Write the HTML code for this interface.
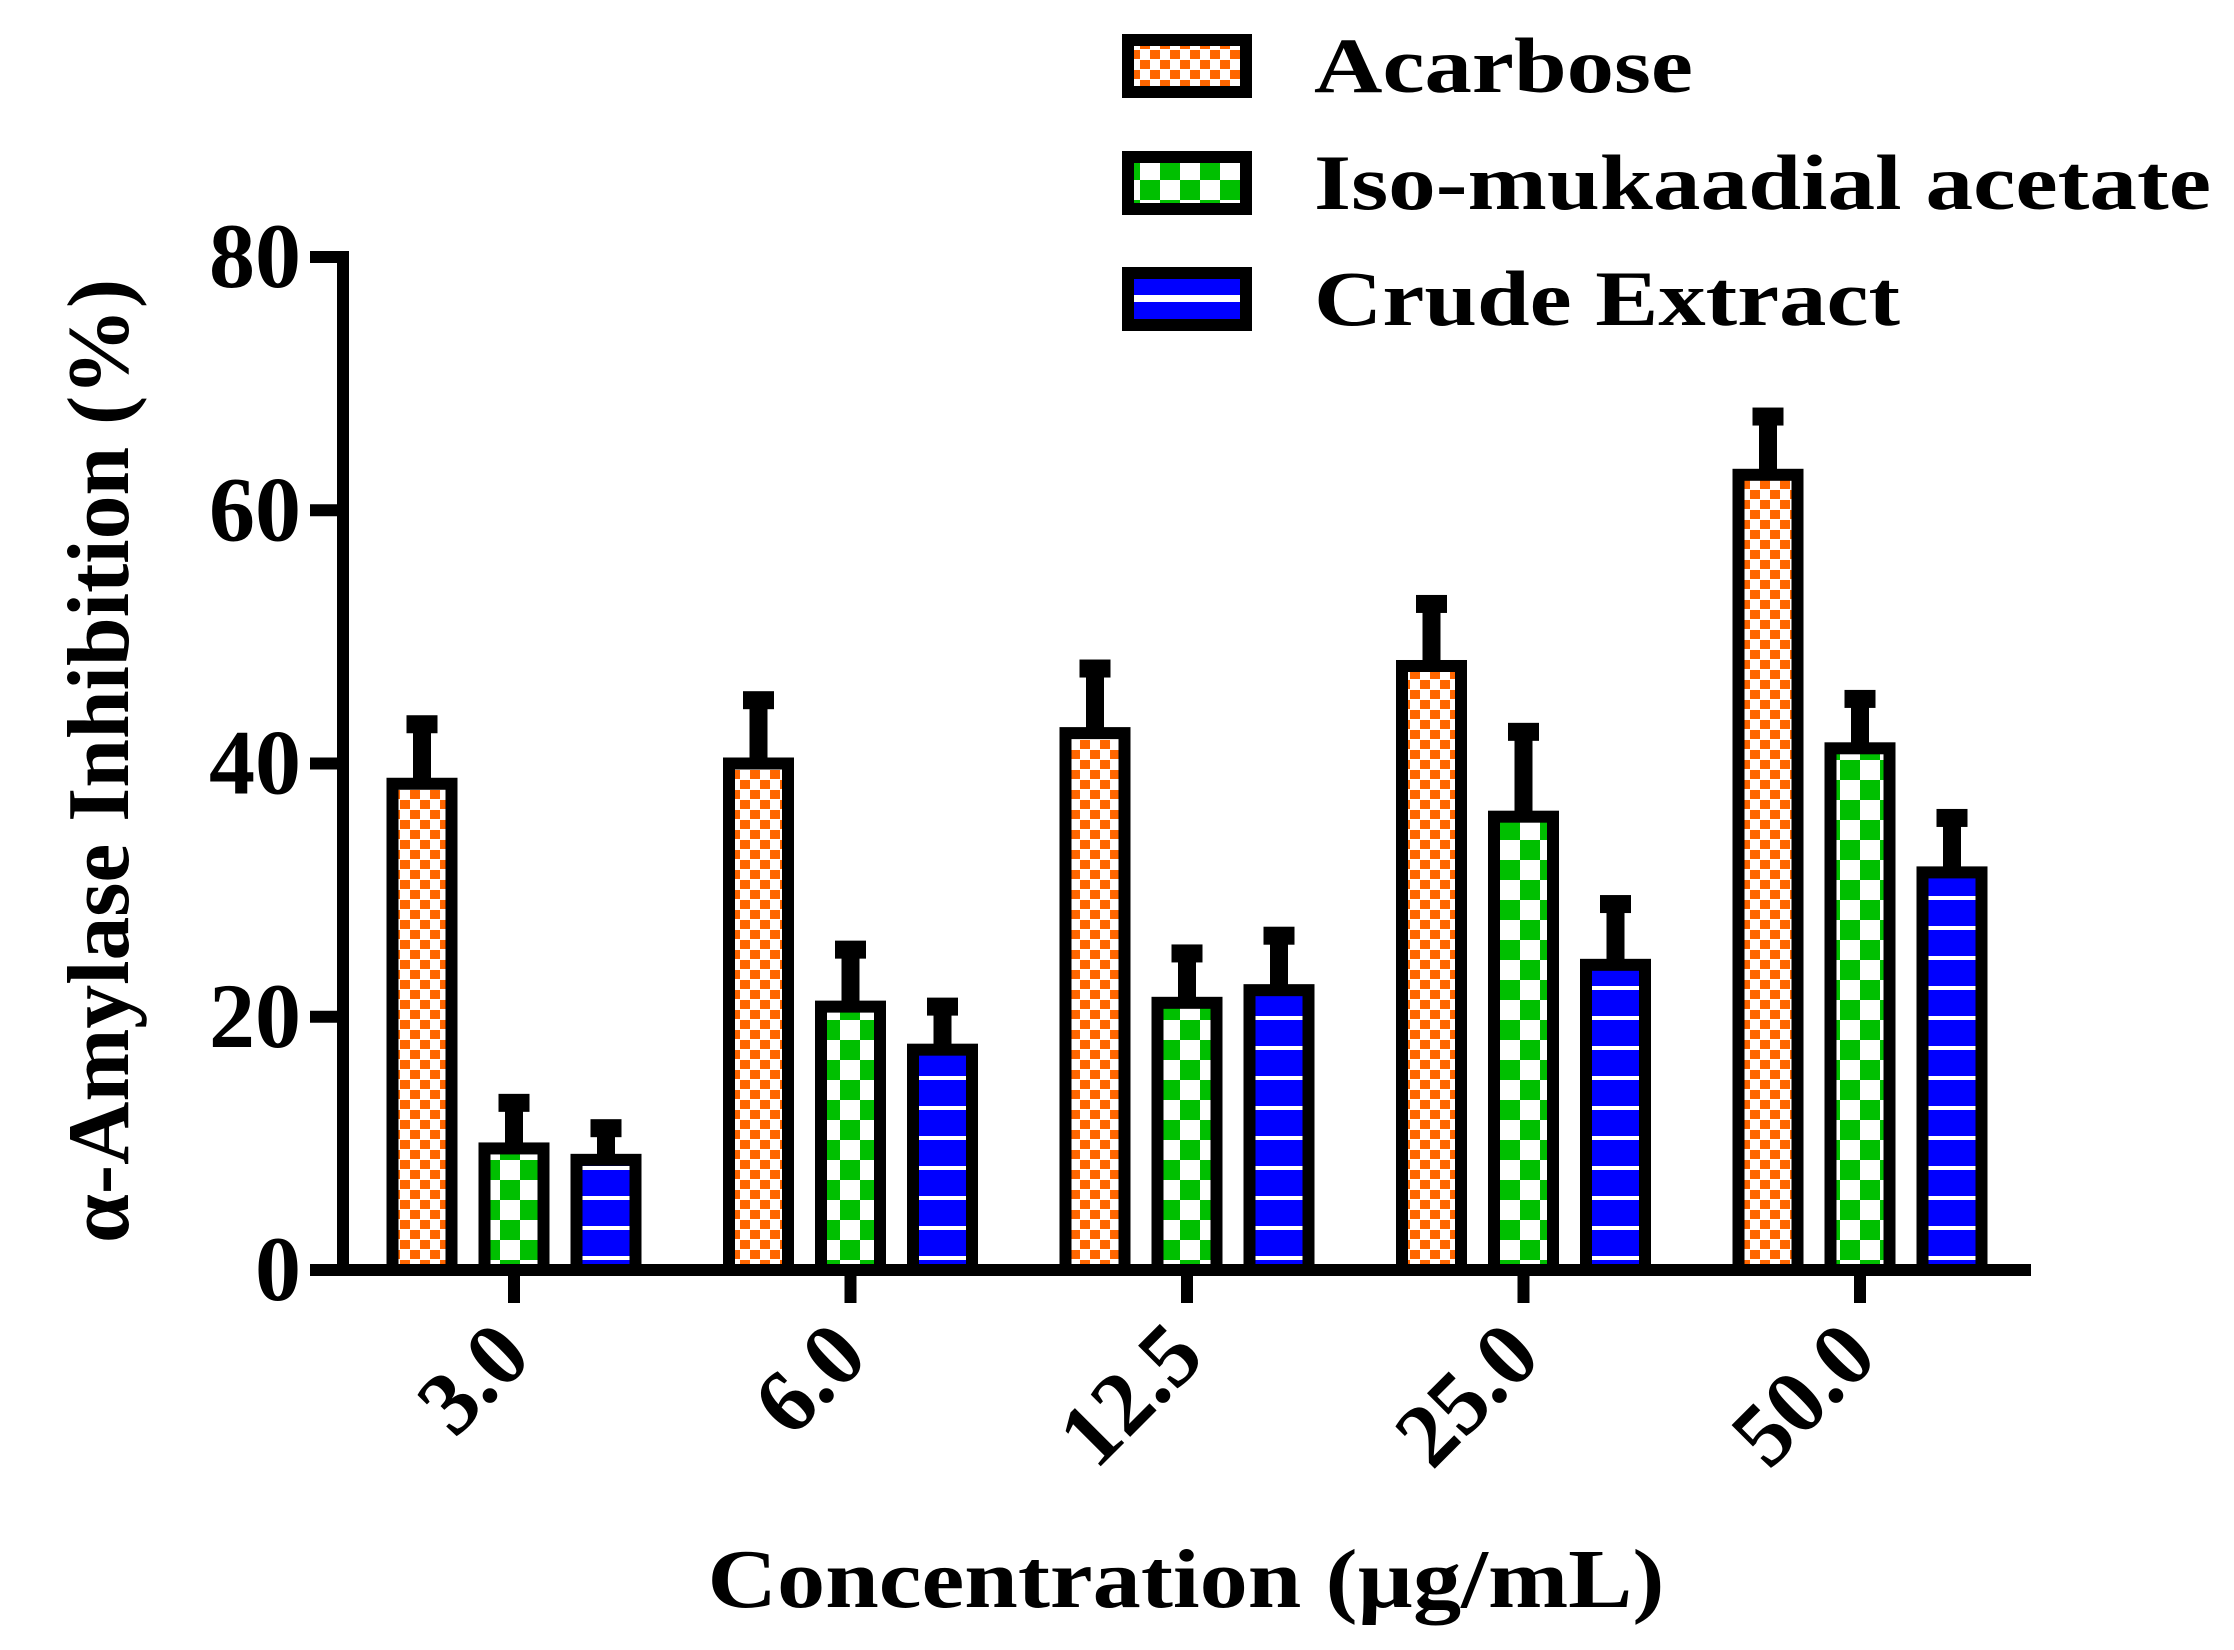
<!DOCTYPE html>
<html><head><meta charset="utf-8"><style>
html,body{margin:0;padding:0;background:#fff}
svg{display:block}
text{font-family:"Liberation Serif",serif;font-weight:bold;fill:#000}
</style></head><body>
<svg id="chart" width="2234" height="1650" viewBox="0 0 2234 1650" xmlns="http://www.w3.org/2000/svg">
<defs>
<pattern id="pOrange" patternUnits="userSpaceOnUse" width="20" height="20">
<rect width="20" height="20" fill="#fff"/><rect x="0" y="0" width="10" height="9" fill="#ff6600"/><rect x="10" y="10" width="10" height="9" fill="#ff6600"/></pattern>
<pattern id="pGreen" patternUnits="userSpaceOnUse" width="40" height="40">
<rect width="40" height="40" fill="#fff"/><rect x="0" y="0" width="20" height="20" fill="#00bf00"/><rect x="20" y="20" width="20" height="20" fill="#00bf00"/></pattern>
<pattern id="pBlue" patternUnits="userSpaceOnUse" width="30" height="30">
<rect width="30" height="30" fill="#0000ff"/><rect x="0" y="26" width="30" height="4" fill="#fff"/></pattern>
</defs>
<g id="plot"></g>
<text transform="translate(128,761) rotate(-90)" text-anchor="middle" font-size="88" textLength="964" lengthAdjust="spacingAndGlyphs">α-Amylase Inhibition (%)</text>
<text x="1186" y="1607" text-anchor="middle" font-size="84" textLength="957" lengthAdjust="spacingAndGlyphs">Concentration (µg/mL)</text>
<g>
<g><rect x="1128" y="40" width="118" height="52" fill="url(#pOrange)" stroke="#000" stroke-width="12"/><text x="1314" y="92" font-size="78" textLength="379" lengthAdjust="spacingAndGlyphs">Acarbose</text></g>
<g><rect x="1128" y="157" width="118" height="52" fill="url(#pGreen)" stroke="#000" stroke-width="12"/><text x="1314" y="209" font-size="78" textLength="897" lengthAdjust="spacingAndGlyphs">Iso-mukaadial acetate</text></g>
<g><rect x="1128" y="273" width="118" height="52" fill="#0000ff" stroke="#000" stroke-width="12"/><rect x="1134" y="295" width="106" height="7" fill="#fff"/><text x="1314" y="325" font-size="78" textLength="586" lengthAdjust="spacingAndGlyphs">Crude Extract</text></g>
</g>
</svg>
<script>
const categories = ["3.0","6.0","12.5","25.0","50.0"];
const acarbose = [38.4,40,42.4,47.7,62.8];
const acarboseErr = [4.7,5,5.1,4.9,4.6];
const iso = [9.6,20.8,21.1,35.8,41.2];
const isoErr = [3.6,4.5,3.9,6.7,3.9];
const crude = [8.7,17.4,22.1,24.1,31.4];
const crudeErr = [2.5,3.4,4.3,4.8,4.3];
const yTicks = [0,20,40,60,80];

const NS = "http://www.w3.org/2000/svg";
const g = document.getElementById('plot');
const X0 = 343, Y0 = 1270, YTOP = 257, XEND = 2031;
const y = v => Y0 - (v/80)*(Y0-YTOP);
const xc = i => 514 + i*336.5;
function mk(tag, attrs){const e=document.createElementNS(NS,tag);for(const k in attrs)e.setAttribute(k,attrs[k]);g.appendChild(e);return e;}

const series = [
 {vals:acarbose, err:acarboseErr, fill:'url(#pOrange)', off:-92, name:'acarbose'},
 {vals:iso, err:isoErr, fill:'url(#pGreen)', off:0, name:'iso-mukaadial'},
 {vals:crude, err:crudeErr, fill:'url(#pBlue)', off:92, name:'crude-extract'}
];
const BW = 59, SW = 12;
series.forEach(s=>{
 s.vals.forEach((v,i)=>{
  const cx = xc(i)+s.off, top = y(v), etop = y(v+s.err[i]);
  const st = mk('rect',{x:cx-9,y:etop,width:18,height:top-etop,fill:'#000'});
  
  
  const cap = mk('rect',{x:cx-15.5,y:etop-9,width:31,height:18,fill:'#000'});
  
  
  const b = mk('rect',{x:cx-BW/2,y:top,width:BW,height:Y0-top,fill:s.fill,stroke:'#000','stroke-width':SW});
  
  
 });
});
const ya = mk('line',{x1:X0,y1:YTOP-6,x2:X0,y2:Y0+6,stroke:'#000','stroke-width':12});


const xa = mk('line',{x1:X0-30,y1:Y0,x2:XEND,y2:Y0,stroke:'#000','stroke-width':12});


yTicks.forEach(t=>{
 const l = mk('line',{x1:X0-33,y1:y(t),x2:X0,y2:y(t),stroke:'#000','stroke-width':12});
 
 
 const tx = mk('text',{x:X0-42,y:y(t)+30,'text-anchor':'end','font-size':92});
 tx.textContent = t;
 
 
});
categories.forEach((c,i)=>{
 const l = mk('line',{x1:xc(i),y1:Y0,x2:xc(i),y2:Y0+33,stroke:'#000','stroke-width':12});
 
 
 const tx = mk('text',{transform:`translate(${xc(i)+20},${Y0+90}) rotate(-45)`,'text-anchor':'end','font-size':90});
 tx.textContent = c;
 
 
});
</script>
</body></html>
